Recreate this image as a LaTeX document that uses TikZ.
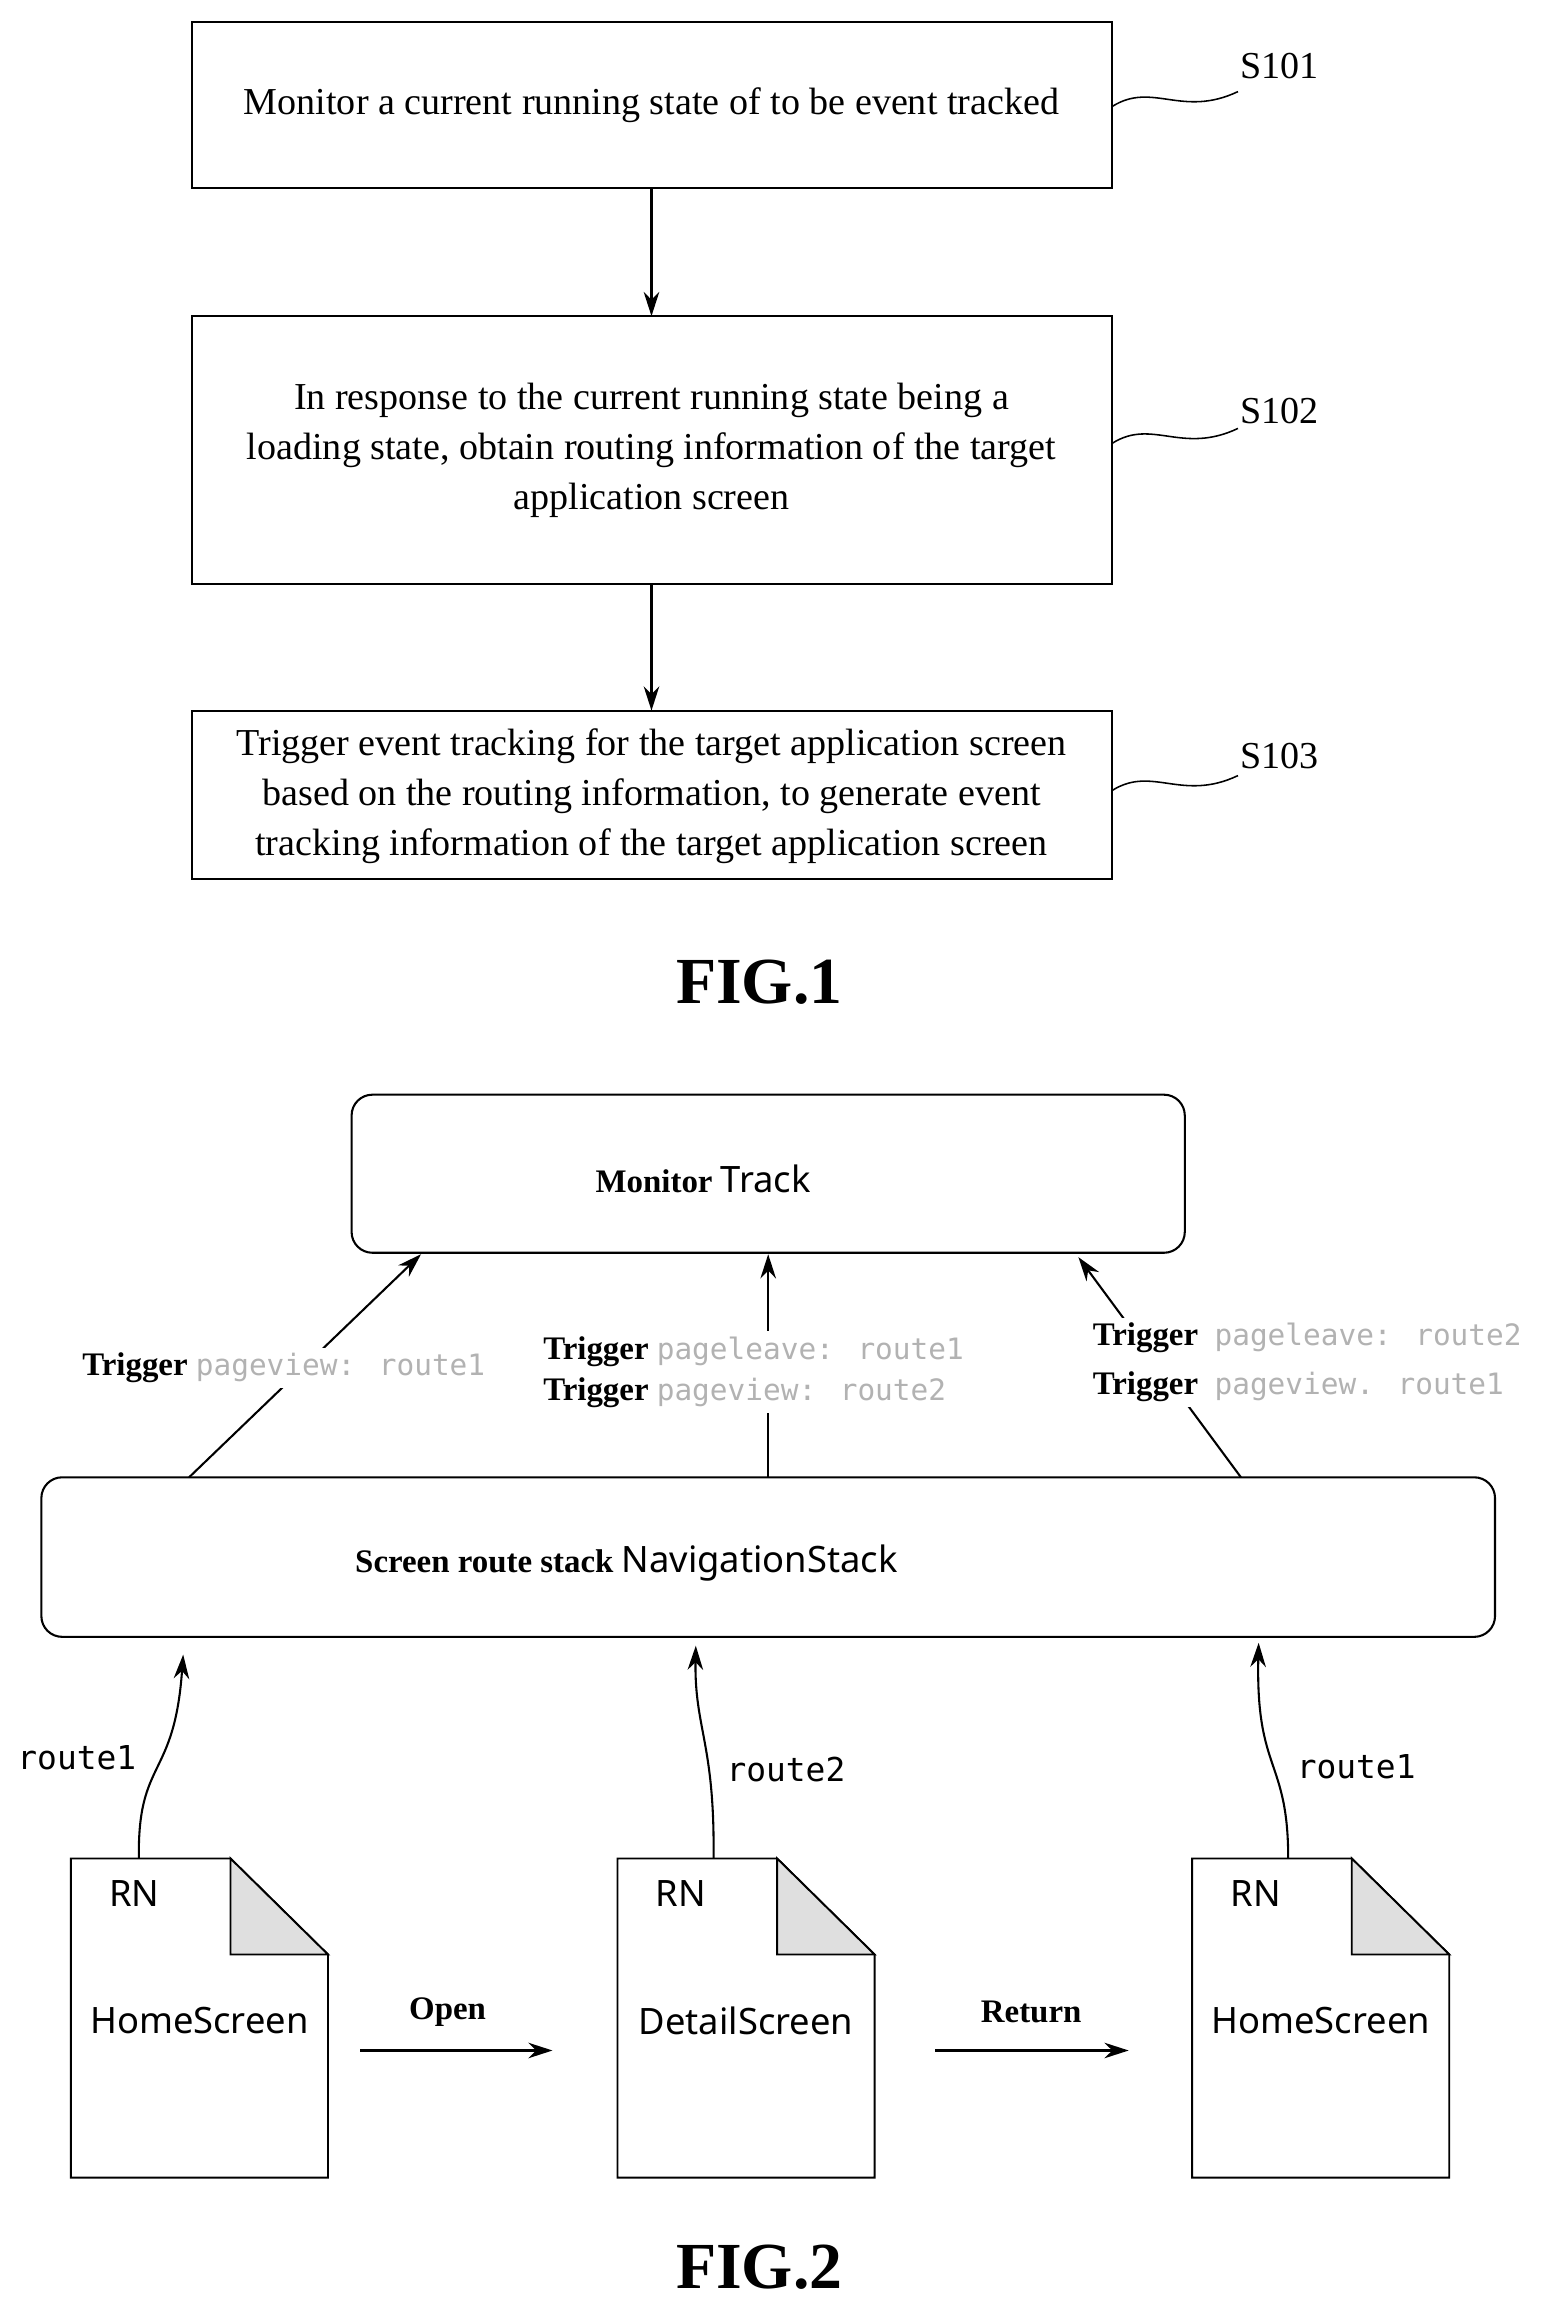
\documentclass[tikz,border=0pt]{standalone}
\usepackage{fontspec}
\setmainfont{Liberation Serif}
\newfontfamily\grey{DejaVu Sans Mono}
\newfontfamily\nsans{Noto Sans}
\usetikzlibrary{arrows.meta}
\begin{document}
\begin{tikzpicture}[x=0.03cm,y=-0.03cm,
 box/.style={draw,line width=1.2pt,inner sep=0},
 rbox/.style={draw,line width=1.2pt,rounded corners=12pt},
 arr/.style={line width=1.2pt,-{Stealth[length=14pt,width=9pt]}},
 t1/.style={font=\fontsize{22}{29}\selectfont,align=center},
 sl/.style={font=\fontsize{22}{26}\selectfont},
 fig/.style={font=\fontsize{38}{44}\selectfont\bfseries},
 trg/.style={font=\fontsize{19}{22}\selectfont\bfseries},
 gr/.style={font=\fontsize{17}{22}\selectfont\grey,text=gray!60},
 ss/.style={font=\fontsize{21}{24}\selectfont\nsans},
 rt/.style={font=\fontsize{19}{22}\selectfont\grey}]
\useasboundingbox (0,0) rectangle (1049,1563);
% FIG 1
\draw[box] (130,15) rectangle (753,127);
\node[t1] (b1) at (441,71) {Monitor a current running state of to be event tracked};
\draw[box] (130,214) rectangle (753,395);
\node[t1] (b2) at (441,305) {In response to the current running state being a\\loading state, obtain routing information of the target\\application screen};
\draw[box] (130,481) rectangle (753,595);
\node[t1] (b3) at (441,539) {Trigger event tracking for the target application screen\\based on the routing information, to generate event\\tracking information of the target application screen};
\coordinate (a1) at (441,127); \coordinate (a2) at (441,214);
\coordinate (a3) at (441,395); \coordinate (a4) at (441,481);
\draw[arr] (a1) -- (a2);
\draw[arr] (a3) -- (a4);
\node[sl] (s1) at (866,45) {S101};
\node[sl] (s2) at (866,278) {S102};
\node[sl] (s3) at (866,512) {S103};
\draw[line width=0.9pt] (753,72) .. controls (780,55) and (800,80) .. (838,62);
\draw[line width=0.9pt] (753,300) .. controls (780,283) and (800,308) .. (838,290);
\draw[line width=0.9pt] (753,535) .. controls (780,518) and (800,543) .. (838,525);
\node[fig] (f1) at (514,665) {FIG.1};
% FIG 2
\draw[rbox] (238,741) rectangle (802,848);
\node (mon) at (476,798) {\fontsize{19}{22}\selectfont\bfseries Monitor \fontsize{21}{22}\selectfont\nsans\mdseries Track};
\draw[rbox] (28,1000) rectangle (1012,1108);
\node (nav) at (424,1058) {\fontsize{19}{22}\selectfont\bfseries Screen route stack \fontsize{21}{22}\selectfont\nsans\mdseries NavigationStack};
% trigger arrows
\coordinate (l0) at (128,1000); \coordinate (l1) at (285,849);
\coordinate (m0) at (520,1000); \coordinate (m1) at (520,849);
\coordinate (r0) at (840,1000); \coordinate (r1) at (730,851);
\draw[arr] (l0) -- (l1);
\draw[arr] (m0) -- (m1);
\draw[arr] (r0) -- (r1);
\node[trg,fill=white,anchor=west,inner sep=3pt] (tl) at (52,926) {Trigger \mdseries\fontsize{17}{22}\selectfont\grey\textcolor{gray!60}{pageview: route1}};
\node[trg,fill=white,anchor=west,inner sep=3pt,align=left] (tm) at (364,929) {Trigger {\mdseries\fontsize{17}{22}\selectfont\grey\textcolor{gray!60}{pageleave: route1}}\\[2pt]Trigger {\mdseries\fontsize{17}{22}\selectfont\grey\textcolor{gray!60}{pageview: route2}}};
\node[trg,fill=white,anchor=west,inner sep=3pt,align=left] (tr) at (736,922) {Trigger\ \ {\mdseries\fontsize{17}{22}\selectfont\grey\textcolor{gray!60}{pageleave: route2}}\\[6pt]Trigger\ \ {\mdseries\fontsize{17}{22}\selectfont\grey\textcolor{gray!60}{pageview. route1}}};
% documents
\foreach \x/\n/\lab in {48/d1/HomeScreen,418/d2/DetailScreen,807/d3/HomeScreen}{
  \draw[line width=1.1pt] (\x,1258) -- (\x+108,1258) -- (\x+174,1323) -- (\x+174,1474) -- (\x,1474) -- cycle;
  \draw[line width=1.1pt,fill=gray!25] (\x+108,1258) -- (\x+174,1323) -- (\x+108,1323) -- cycle;
  \node[ss] at (\x+43,1282) {RN};
  \node[ss] (\n) at (\x+87,1368) {\lab};
}
\coordinate (p1) at (94,1258); \coordinate (q1) at (124,1120);
\coordinate (p2) at (483,1258); \coordinate (q2) at (471,1114);
\coordinate (p3) at (872,1258); \coordinate (q3) at (852,1112);
\draw[arr] (p1) .. controls (93,1190) and (118,1205) .. (q1);
\draw[arr] (p2) .. controls (484,1180) and (470,1170) .. (q2);
\draw[arr] (p3) .. controls (872,1190) and (850,1200) .. (q3);
\node[rt] (r1l) at (52,1190) {route1};
\node[rt] (r2l) at (532,1198) {route2};
\node[rt] (r3l) at (918,1196) {route1};
\coordinate (o0) at (244,1388); \coordinate (o1) at (374,1388);
\coordinate (e0) at (633,1388); \coordinate (e1) at (764,1388);
\draw[arr] (o0) -- (o1);
\draw[arr] (e0) -- (e1);
\node[trg] (op) at (303,1362) {Open};
\node[trg] (re) at (698,1362) {Return};
\node[fig] (f2) at (514,1535) {FIG.2};
\end{tikzpicture}
\end{document}
